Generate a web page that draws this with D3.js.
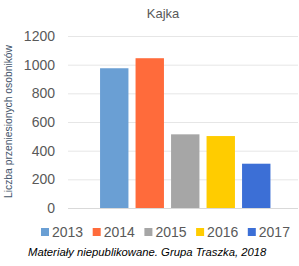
<!DOCTYPE html>
<html>
<head>
<meta charset="utf-8">
<script src="https://cdn.jsdelivr.net/npm/d3@7"></script>
<style>
  body { margin: 0; background: #fff; }
  text { font-family: "Liberation Sans", Arial, sans-serif; }
</style>
</head>
<body>
<svg width="299" height="266"></svg>
<script>
let years = ['2013', '2014', '2015', '2016', '2017'];
let values = [975, 1045, 514, 502, 309];
let colors = ['#6a9fd4', '#ff6b3b', '#a6a6a6', '#ffcc00', '#3c6fd6'];
let ticks = [0, 200, 400, 600, 800, 1000, 1200];

let svg = d3.select('svg');

let yScale = d3.scaleLinear()
               .domain([0, 1200])
               .range([208, 36]);

let xScale = d3.scaleBand()
               .domain(years)
               .range([96.5, 274])
               .paddingInner(0.2)
               .paddingOuter(0.1);

// gridlines
svg.selectAll('line.grid')
   .data(ticks)
   .enter()
   .append('line')
   .attr('x1', 68)
   .attr('x2', 298)
   .attr('y1', (d) => yScale(d) + 0.5)
   .attr('y2', (d) => yScale(d) + 0.5)
   .attr('stroke', (d) => d === 0 ? '#d9d9d9' : '#e6e6e6')
   .attr('stroke-width', 1);

// tick labels
svg.selectAll('text.tick')
   .data(ticks)
   .enter()
   .append('text')
   .attr('x', 55)
   .attr('y', (d) => yScale(d))
   .attr('dy', '0.35em')
   .attr('text-anchor', 'end')
   .attr('font-size', 14)
   .attr('fill', '#595959')
   .text((d) => d);

// bars
svg.selectAll('rect.bar')
   .data(values)
   .enter()
   .append('rect')
   .attr('x', (d, i) => xScale(years[i]))
   .attr('y', (d) => yScale(d))
   .attr('width', xScale.bandwidth())
   .attr('height', (d) => yScale(0) - yScale(d))
   .attr('fill', (d, i) => colors[i]);

// title
svg.append('text')
   .attr('x', 163)
   .attr('y', 18)
   .attr('text-anchor', 'middle')
   .attr('font-size', 13)
   .attr('fill', '#595959')
   .text('Kajka');

// y axis label
svg.append('text')
   .attr('transform', 'translate(12,198) rotate(-90)')
   .attr('font-size', 10.5)
   .attr('fill', '#44546a')
   .attr('textLength', 153)
   .attr('lengthAdjust', 'spacingAndGlyphs')
   .text('Liczba przeniesionych osobników');

// legend
let legend = svg.selectAll('g.legend')
                .data(years)
                .enter()
                .append('g')
                .attr('transform', (d, i) => 'translate(' + (41 + i * 51.7) + ',0)');

legend.append('rect')
      .attr('x', 0)
      .attr('y', 228)
      .attr('width', 8)
      .attr('height', 8)
      .attr('fill', (d, i) => colors[i]);

legend.append('text')
      .attr('x', 11)
      .attr('y', 237)
      .attr('font-size', 14)
      .attr('fill', '#595959')
      .text((d) => d);

// source
svg.append('text')
   .attr('x', 28)
   .attr('y', 256)
   .attr('font-size', 11.3)
   .attr('font-style', 'italic')
   .attr('fill', '#000')
   .text('Materiały niepublikowane. Grupa Traszka, 2018');
</script>
</body>
</html>
